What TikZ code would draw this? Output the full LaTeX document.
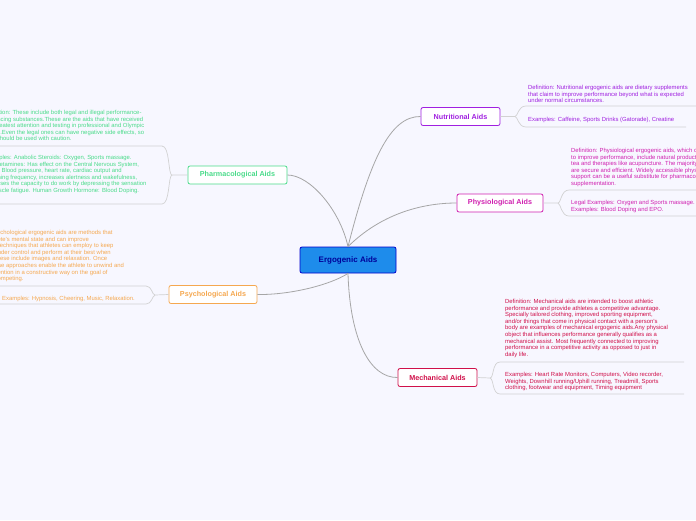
\documentclass[tikz,border=0pt]{standalone}
\usepackage{fontspec}
\setmainfont{Liberation Sans}
\begin{document}
\begin{tikzpicture}[x=1pt,y=-1pt,
  main/.style={draw=#1,fill=white,rounded corners=2pt,line width=0.8pt,font=\fontsize{7.2}{8}\selectfont\bfseries,text=#1,minimum height=18pt,inner xsep=4pt},
  leaf/.style={font=\fontsize{5.9}{6.6}\selectfont,text=#1,align=left,inner sep=0pt},
  br/.style={draw=gray!35,line width=0.7pt},
  con/.style={draw=gray!70,line width=0.8pt}]
\useasboundingbox (0,0) rectangle (696,520);
\clip (0,0) rectangle (696,520);
\fill[blue!3] (0,0) rectangle (696,520);
\definecolor{nut}{HTML}{A020E0}\definecolor{phy}{HTML}{D020B0}
\definecolor{mec}{HTML}{D0104A}\definecolor{pha}{HTML}{4ADB8A}
\definecolor{psy}{HTML}{F5A850}\definecolor{ctr}{HTML}{1E8CEB}
\node[draw=blue!80!black,fill=ctr,rounded corners=2pt,line width=0.8pt,minimum width=96pt,minimum height=26pt,font=\fontsize{8}{9}\selectfont\bfseries,text=blue!60!black] (c) at (348,260) {Ergogenic Aids};
\node[main=nut,minimum width=79pt] (n) at (460.5,116.5) {Nutritional Aids};
\node[main=phy,minimum width=86pt] (p) at (500,203) {Physiological Aids};
\node[main=mec,minimum width=79pt] (m) at (437.5,377.5) {Mechanical Aids};
\node[main=pha,minimum width=99pt] (ph) at (237.5,175) {Pharmacological Aids};
\node[main=psy,minimum width=88pt] (ps) at (213,294.5) {Psychological Aids};
\draw[con] (c.north) .. controls (370,160) and (390,116) .. (n.west);
\draw[con] (c.north) .. controls (380,215) and (420,203) .. (p.west);
\draw[con] (c.south) .. controls (350,340) and (370,378) .. (m.west);
\draw[con] (c.north) .. controls (340,210) and (310,175) .. (ph.east);
\draw[con] (c.south) .. controls (330,285) and (290,295) .. (ps.east);
% nutritional
\coordinate (nj) at (515,116.5);
\draw[br] (n.east) -- (nj) .. controls (518,116) and (518,106) .. (526,106) -- (696,106);
\draw[br] (nj) .. controls (518,117) and (518,127) .. (526,127) -- (686,127);
\node[leaf=nut,anchor=north west] (n1) at (528,85) {Definition: Nutritional ergogenic aids are dietary supplements\\that claim to improve performance beyond what is expected\\under normal circumstances.};
\node[leaf=nut,anchor=north west] (n2) at (528,117) {Examples: Caffeine, Sports Drinks (Gatorade), Creatine};
% physiological
\coordinate (pj) at (558,203);
\draw[br] (p.east) -- (pj) .. controls (561,203) and (561,190) .. (569,190) -- (696,190);
\draw[br] (pj) .. controls (561,204) and (561,216) .. (569,216) -- (696,216);
\node[leaf=phy,anchor=north west] (p1) at (571,148) {Definition: Physiological ergogenic aids, which claim\\to improve performance, include natural products like\\tea and therapies like acupuncture. The majority of them\\are secure and efficient. Widely accessible physiological\\support can be a useful substitute for pharmacological\\supplementation.};
\node[leaf=phy,anchor=north west] (p2) at (571,200) {Legal Examples: Oxygen and Sports massage. Illegal\\Examples: Blood Doping and EPO.};
% mechanical
\coordinate (mj) at (490,378);
\draw[br] (m.east) -- (mj) .. controls (494,378) and (492,362) .. (500,362) -- (684,362);
\draw[br] (mj) .. controls (494,379) and (492,394) .. (500,394) -- (684,394);
\node[leaf=mec,anchor=north west] (m1) at (505,299) {Definition: Mechanical aids are intended to boost athletic\\performance and provide athletes a competitive advantage.\\Specially tailored clothing, improved sporting equipment,\\and/or things that come in physical contact with a person's\\body are examples of mechanical ergogenic aids.Any physical\\object that influences performance generally qualifies as a\\mechanical assist. Most frequently connected to improving\\performance in a competitive activity as opposed to just in\\daily life.};
\node[leaf=mec,anchor=north west] (m2) at (505,372) {Examples: Heart Rate Monitors, Computers, Video recorder,\\Weights, Downhill running/Uphill running, Treadmill, Sports\\clothing, footwear and equipment, Timing equipment};
% pharmacological
\coordinate (hj) at (172,175);
\draw[br] (ph.west) -- (hj) .. controls (168,175) and (170,146) .. (162,146) -- (0,146);
\draw[br] (hj) .. controls (168,176) and (170,204) .. (162,204) -- (0,204);
\node[leaf=pha,anchor=north west] (h1) at (-16,110) {Definition: These include both legal and illegal performance-\\enhancing substances.These are the aids that have received\\the greatest attention and testing in professional and Olympic\\sports.Even the legal ones can have negative side effects, so\\they should be used with caution.};
\node[leaf=pha,anchor=north west] (h2) at (-16,155) {Examples: Anabolic Steroids: Oxygen, Sports massage.\\Amphetamines: Has effect on the Central Nervous System,\\user's Blood pressure, heart rate, cardiac output and\\breathing frequency, increases alertness and wakefulness,\\increases the capacity to do work by depressing the sensation\\of muscle fatigue. Human Growth Hormone: Blood Doping.};
% psychological
\coordinate (sj) at (155,295);
\draw[br] (ps.west) -- (sj) .. controls (152,295) and (152,286) .. (146,286) -- (0,286);
\draw[br] (sj) .. controls (152,296) and (152,304) .. (146,304) -- (0,304);
\node[leaf=psy,anchor=north west] (s1) at (-38,230) {Definition: Psychological ergogenic aids are methods that\\affect the athlete's mental state and can improve\\performance.Techniques that athletes can employ to keep\\their nerves under control and perform at their best when\\competing. These include images and relaxation. Once\\mastered, these approaches enable the athlete to unwind and\\focus their attention in a constructive way on the goal of\\training and competing.};
\node[leaf=psy,anchor=north west] (s2) at (2,296) {Examples: Hypnosis, Cheering, Music, Relaxation.};
\end{tikzpicture}
\end{document}
